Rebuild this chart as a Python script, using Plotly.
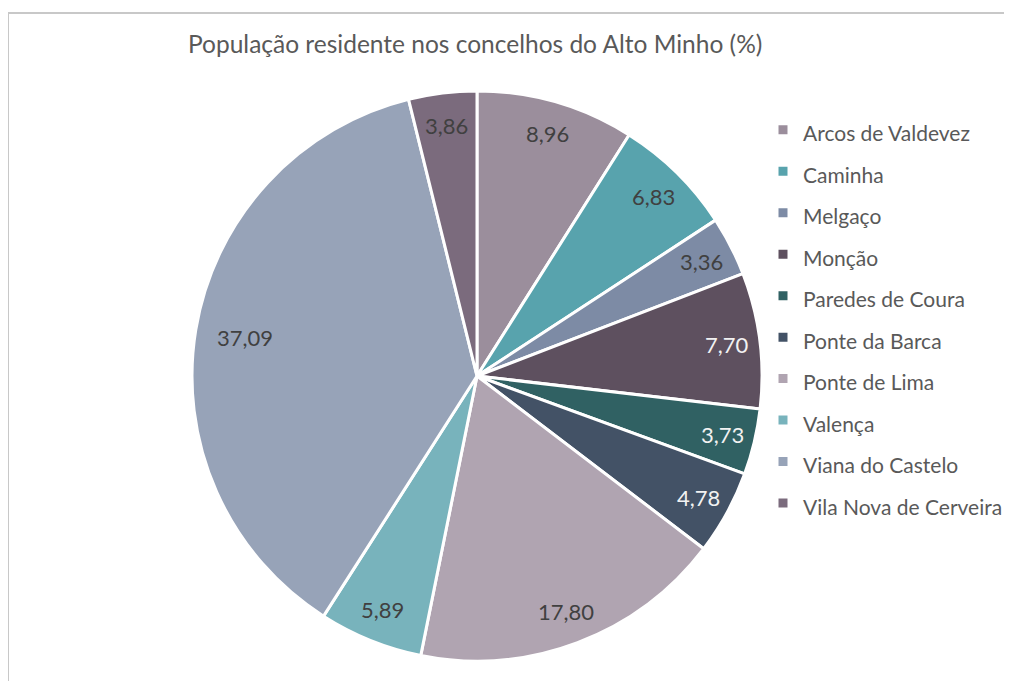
import math
import plotly.graph_objects as go

concelhos = ["Arcos de Valdevez", "Caminha", "Melgaço", "Monção", "Paredes de Coura",
             "Ponte da Barca", "Ponte de Lima", "Valença", "Viana do Castelo",
             "Vila Nova de Cerveira"]
valores = [8.96, 6.83, 3.36, 7.70, 3.73, 4.78, 17.80, 5.89, 37.09, 3.86]
cores = ["#9B8E9C", "#58A3AD", "#7D8BA5", "#5E505F", "#306163",
         "#435266", "#B0A4B1", "#78B3BC", "#97A3B8", "#7B6B7D"]
cores_texto = ["#404040", "#404040", "#404040", "#F2F2F2", "#F2F2F2",
               "#F2F2F2", "#404040", "#404040", "#404040", "#404040"]
titulo = "População residente nos concelhos do Alto Minho (%)"

# page body has an 8px margin; work in reference pixels minus 8
OFF = 8
W, H = 1012 - OFF, 681 - OFF


def fx(x):
    return (x - OFF) / W


def fy(y):
    return 1 - (y - OFF) / H


cx, cy, R = 477, 376, 285
dom_x = [fx(cx - R), fx(cx + R)]
dom_y = [fy(cy + R), fy(cy - R)]

legend_labels = [f'<span style="font-size:21px">{c}</span>' for c in concelhos]

fig = go.Figure(go.Pie(
    labels=legend_labels, values=valores, sort=False, direction="clockwise", rotation=0,
    marker=dict(colors=cores, line=dict(color="white", width=3)),
    textinfo="none", hovertext=concelhos, hoverinfo="text+value",
    domain=dict(x=dom_x, y=dom_y),
))

# data labels placed at mid-angle of each slice
total = sum(valores)
cum = 0
anns = []
for v, tc in zip(valores, cores_texto):
    mid = (cum + v / 2) / total * 2 * math.pi
    cum += v
    rf = 0.885 if v < 30 else 0.825
    px = cx + rf * R * math.sin(mid)
    py = cy - rf * R * math.cos(mid)
    anns.append(dict(x=fx(px), y=fy(py), xref="paper", yref="paper",
                     text=f"{v:.2f}".replace(".", ","), showarrow=False,
                     font=dict(size=22, color=tc, family="Lato"),
                     xanchor="center", yanchor="middle"))

anns.append(dict(x=fx(475), y=fy(43), xref="paper", yref="paper", text=titulo,
                 showarrow=False, font=dict(size=24.5, color="#595959", family="Lato"),
                 xanchor="center", yanchor="middle"))

fig.update_layout(
    width=W, height=H,
    margin=dict(l=0, r=0, t=0, b=0),
    paper_bgcolor="white", plot_bgcolor="white",
    annotations=anns,
    showlegend=True,
    legend=dict(x=fx(763), y=fy(104), xanchor="left", yanchor="top",
                font=dict(size=29.6, color="#595959", family="Lato"),
                itemwidth=30, tracegroupgap=0, bgcolor="rgba(0,0,0,0)"),
    shapes=[
        dict(type="line", xref="paper", yref="paper", x0=fx(8), x1=1, y0=fy(13), y1=fy(13),
             line=dict(color="#C8C8C8", width=2)),
        dict(type="line", xref="paper", yref="paper", x0=fx(8), x1=fx(8), y0=0, y1=fy(13),
             line=dict(color="#C8C8C8", width=2)),
    ],
)

fig.write_html("out.html")
